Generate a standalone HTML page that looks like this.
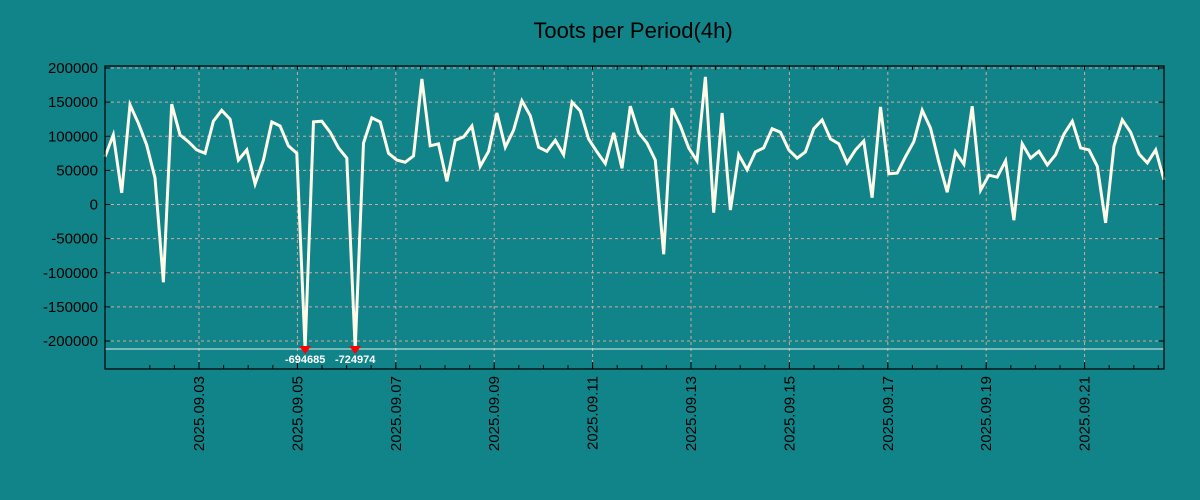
<!DOCTYPE html>
<html><head><meta charset="utf-8"><style>
body{margin:0;background:#108488;}
svg{display:block;font-family:"Liberation Sans",sans-serif;}
</style></head><body>
<svg id="chart" width="1200" height="500" xmlns="http://www.w3.org/2000/svg">
<rect x="0" y="0" width="1200" height="500" fill="#108488"/>
<text x="633" y="38" text-anchor="middle" font-size="22" fill="#000">Toots per Period(4h)</text>
<g id="grid"></g>
<g id="axes"></g>
<g id="series"></g>
<rect x="105" y="66" width="1059" height="303" fill="none" stroke="#000" stroke-width="1.2"/>
</svg>
<script>
const values = [70000,102000,17000,146000,119000,87000,39000,-114000,147000,102000,92000,80000,75000,122000,138000,125000,65000,80000,30000,65000,121000,115000,86000,75000,-694685,121000,122000,106000,83000,68000,-724974,90000,127000,121000,75000,65000,62000,71000,184000,86000,89000,34000,94000,99000,115000,56000,78000,134000,84000,109000,152000,130000,84000,78000,94000,73000,150000,137000,96000,77000,60000,105000,53000,144000,105000,90000,65000,-73000,141000,115000,83000,64000,187000,-12000,134000,-8000,73000,51000,77000,83000,111000,106000,80000,68000,77000,111000,124000,96000,89000,61000,80000,93000,10000,143000,45000,46000,70000,92000,138000,112000,62000,18000,77000,59000,144000,21000,43000,40000,64000,-23000,89000,68000,78000,58000,73000,103000,122000,83000,80000,56000,-27000,86000,124000,106000,74000,61000,80000,36000];
const yTicks = [200000,150000,100000,50000,0,-50000,-100000,-150000,-200000];
const xTickLabels = ["2025.09.03","2025.09.05","2025.09.07","2025.09.09","2025.09.11","2025.09.13","2025.09.15","2025.09.17","2025.09.19","2025.09.21"];
const NS="http://www.w3.org/2000/svg";
const yMin=-241000, clipY=349;
const pxPerHour = 49.2/24;
function xOfHour(h){return 199 + (h-48)*pxPerHour;}
function xOfIndex(i){return 105 + i*(1059/(values.length-1));}
function yScale(v){return 204.5 - v*0.0006825;}
function mk(tag,attrs,parent){const e=document.createElementNS(NS,tag);for(const k in attrs)e.setAttribute(k,attrs[k]);parent.appendChild(e);return e;}
const grid=document.getElementById('grid'), axes=document.getElementById('axes'), series=document.getElementById('series');
yTicks.forEach(t=>{
  const y=yScale(t);
  const g=mk('line',{x1:105,x2:1164,y1:y,y2:y,stroke:'#d0a8a8','stroke-dasharray':'3,3','stroke-width':1},grid);
  
  
  const tk=mk('line',{x1:105,x2:110,y1:y,y2:y,stroke:'#000'},axes);
  
  
  const tk2=mk('line',{x1:1159,x2:1164,y1:y,y2:y,stroke:'#000'},axes);
  
  
  const tx=mk('text',{x:98,y:y+5,'text-anchor':'end','font-size':15,fill:'#000'},axes);
  tx.textContent=t;
  
  
});
for(let h=24;h<=22*24;h+=12){
  const x=xOfHour(h); if(x<105||x>1164)continue;
  const m=mk('line',{x1:x,x2:x,y1:369,y2:365,stroke:'#000'},axes);
  
  
  const m2=mk('line',{x1:x,x2:x,y1:66,y2:70,stroke:'#000'},axes);
  
  
}
xTickLabels.forEach((lab,i)=>{
  const x=xOfHour(48+i*48);
  const g=mk('line',{x1:x,x2:x,y1:66,y2:369,stroke:'#d0a8a8','stroke-dasharray':'3,3'},grid);
  
  
  const tk=mk('line',{x1:x,x2:x,y1:369,y2:362,stroke:'#000'},axes);
  
  
  const tx=mk('text',{x:0,y:0,'text-anchor':'end','font-size':15,fill:'#000',transform:`translate(${x+5},376) rotate(-90)`},axes);
  tx.textContent=lab;
  
  
});
const cl=mk('line',{x1:105,x2:1164,y1:clipY,y2:clipY,stroke:'#e0f0f0','stroke-width':1},series);


const pts=values.map((v,i)=>{const x=xOfIndex(i);let y=yScale(v);if(v<yMin)y=clipY;return [x,y,v];});
const pl=mk('polyline',{points:pts.map(p=>p[0].toFixed(1)+','+p[1].toFixed(1)).join(' '),fill:'none',stroke:'#fffbe8','stroke-width':3,'stroke-linejoin':'miter'},series);


pts.forEach(p=>{
  if(p[2]<yMin){
    const m=mk('path',{d:`M${p[0]-6},${clipY-3} L${p[0]+6},${clipY-3} L${p[0]},${clipY+5} Z`,fill:'#f00'},series);
    
    
    const t=mk('text',{x:p[0],y:363,'text-anchor':'middle','font-size':11,'font-weight':'bold',fill:'#fff'},series);
    t.textContent=p[2];
    
    
  }
});
</script>
</body></html>
